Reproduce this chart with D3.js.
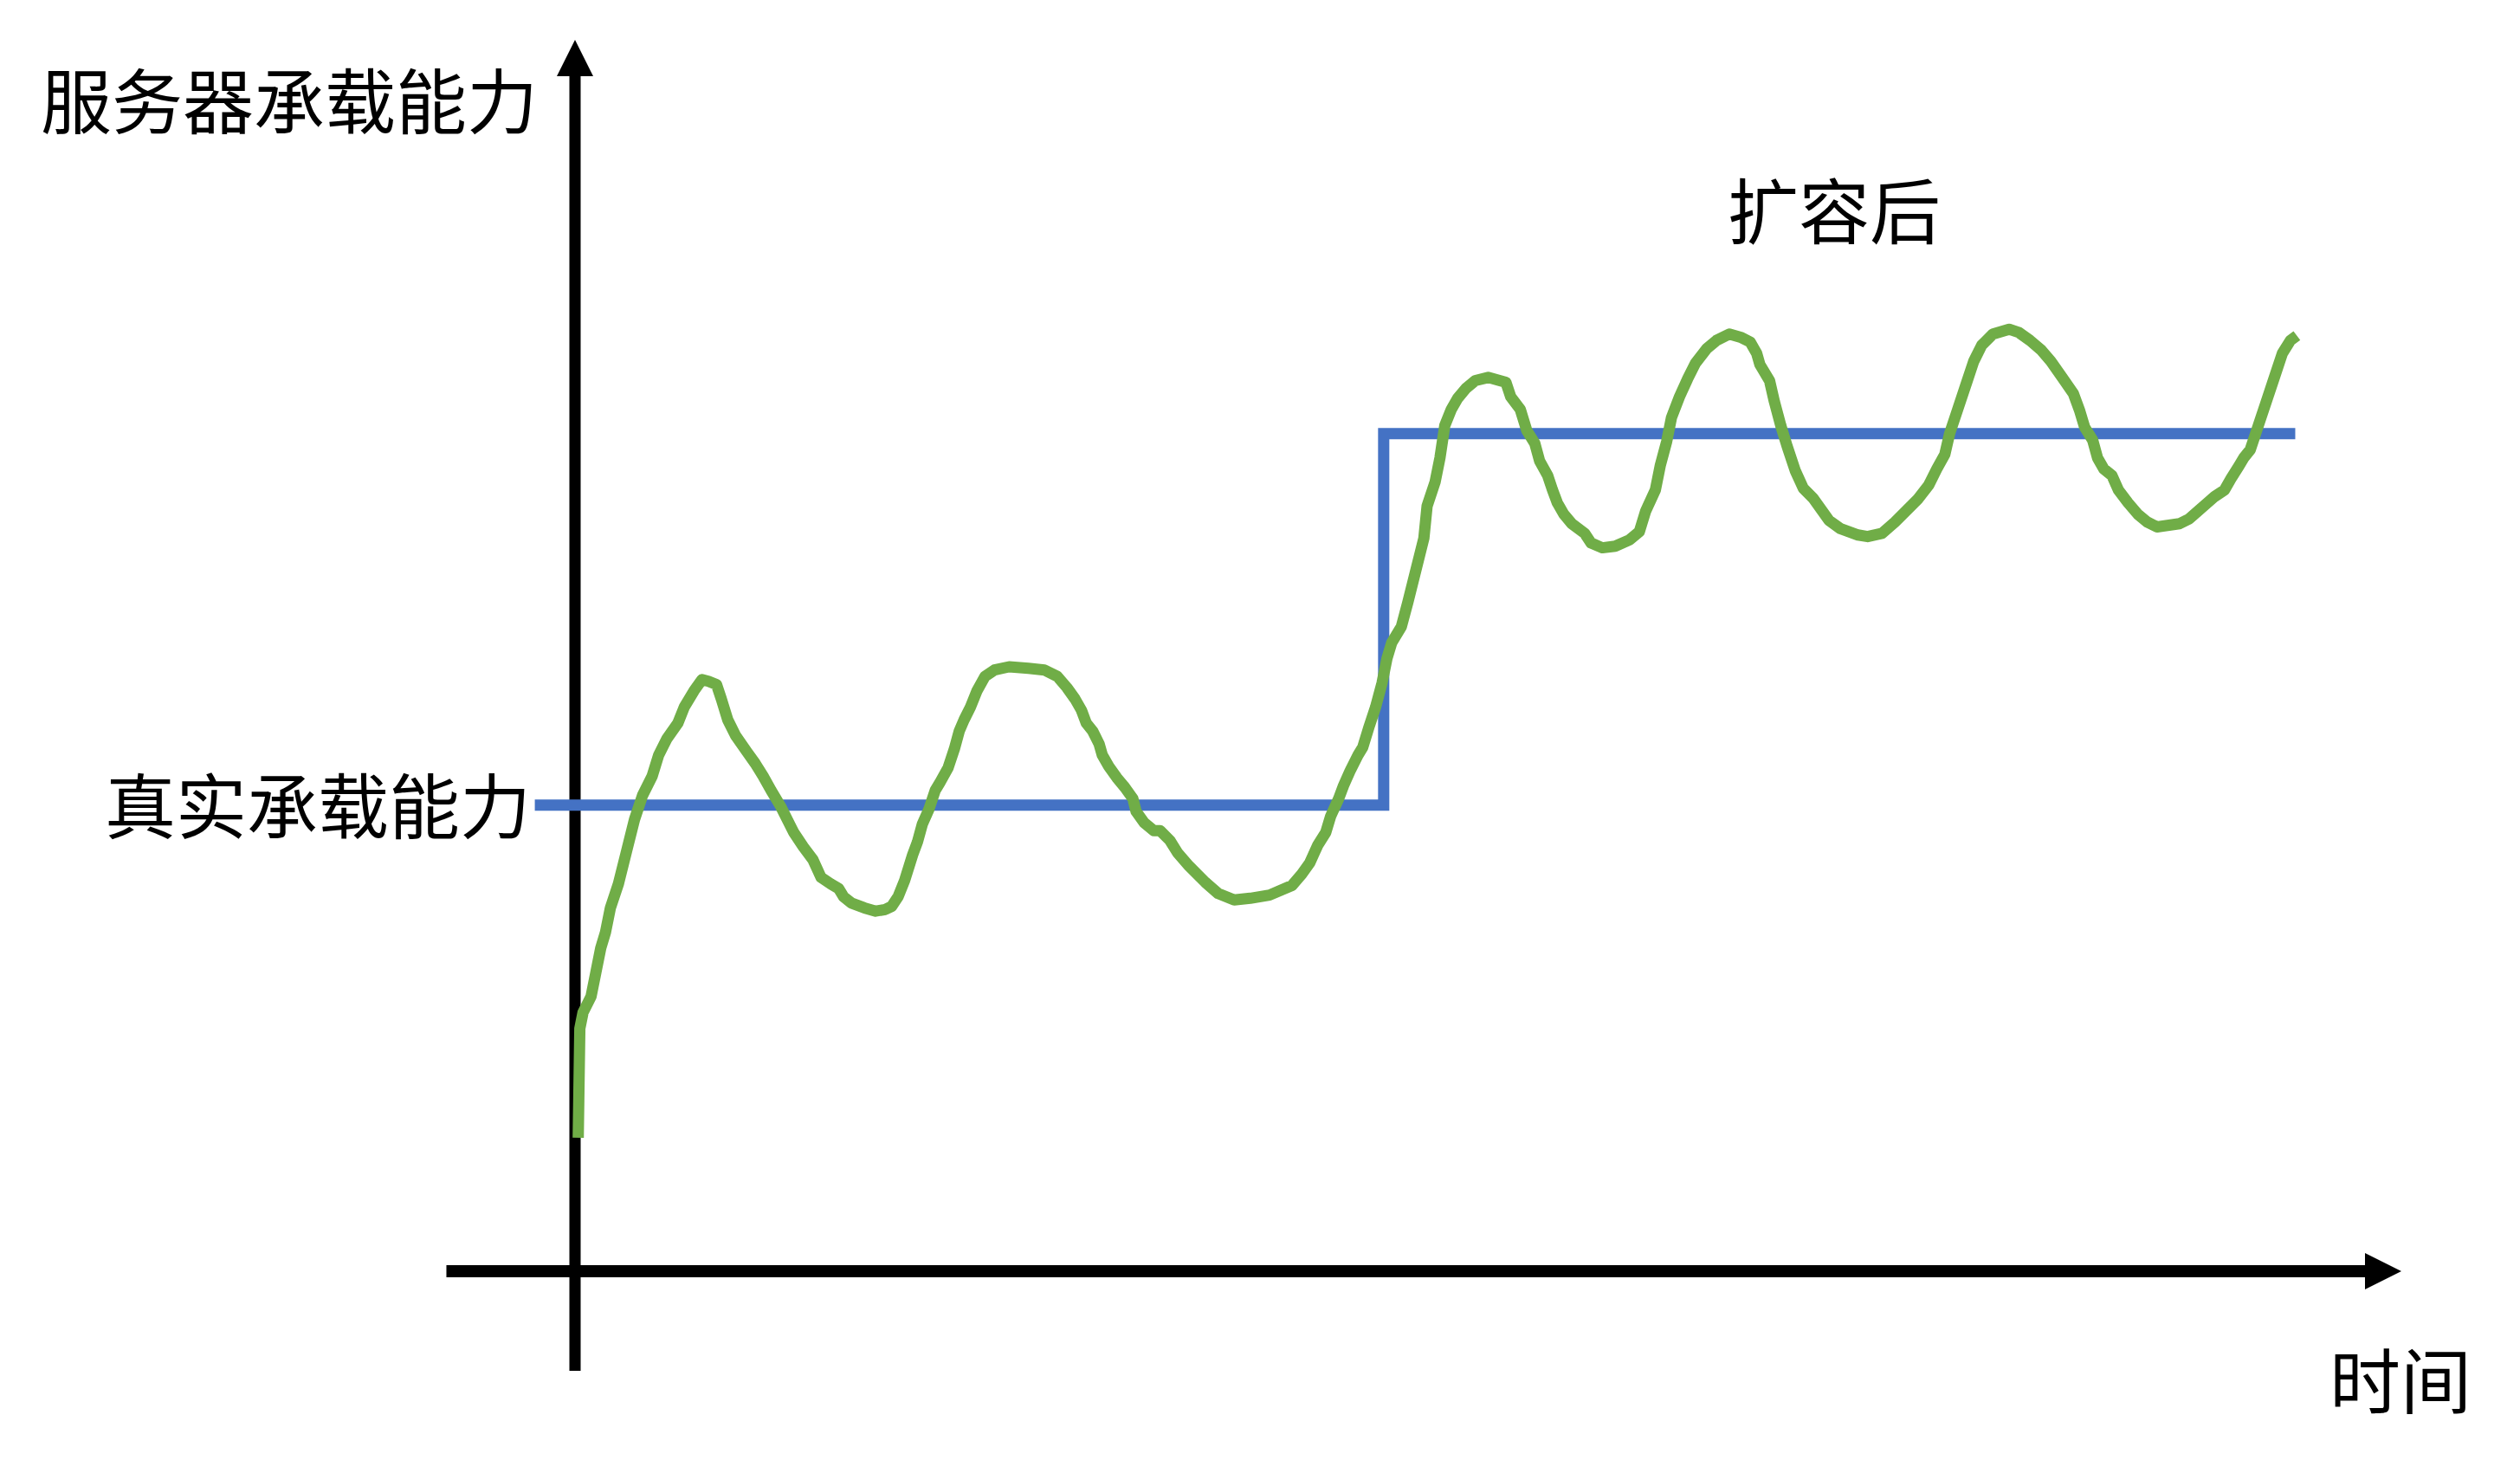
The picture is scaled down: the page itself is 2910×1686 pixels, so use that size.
<!DOCTYPE html>
<html><head><meta charset="utf-8">
<script src="https://cdn.jsdelivr.net/npm/d3@7"></script>
<style>html,body{margin:0;padding:0;background:#fff;}svg{display:block;}</style>
</head><body>
<script>
// ---- data (arbitrary units: time, capacity) ----
const loadTime = [2,3,5,10,13,16,19,22,27,32,37,42,48,52,57,64,68,74,79,83,88,91,95,100,107,112,117,122,128,132,136,142,148,153,159,164,167,172,180,187,193,197,201,205,210,213,216,220,224,227,232,236,239,242,246,250,255,261,270,282,292,300,306,311,315,318,322,326,328,332,337,342,347,349,354,360,364,370,375,382,392,400,410,420,432,446,452,457,462,467,470,475,478,482,487,490,494,498,502,505,508,514,518,523,528,530,535,538,541,545,549,554,560,568,579,582,588,592,597,600,605,608,611,615,620,628,632,639,647,656,662,666,672,675,679,682,687,692,697,704,710,718,725,731,735,737,743,746,750,754,759,764,770,775,780,787,798,804,813,821,828,835,842,847,852,855,860,865,870,875,882,892,898,905,912,918,925,932,936,939,944,947,951,956,960,966,972,978,984,998,1004,1012,1020,1026,1030,1035,1038,1042,1047,1052,1057,1062,1067,1071];
const loadValue = [83,151,161,171,186,201,211,226,241,261,281,296,308,321,331,341,351,361,368,367,365,356,343,333,323,316,308,299,289,281,273,264,256,245,241,238,233,229,226,224,225,227,233,243,259,267,278,287,299,304,313,325,336,343,351,361,370,374,376,375,374,370,363,356,349,341,336,328,321,314,307,301,294,286,279,274,274,268,260,252,242,235,231,232,234,240,247,254,265,273,283,294,302,311,321,326,339,351,366,381,391,401,416,436,456,476,491,506,526,536,543,549,554,556,553,544,536,523,515,504,495,486,478,471,465,459,453,450,451,455,460,473,486,501,516,531,544,555,565,574,579,583,581,578,571,564,554,541,526,513,498,487,481,474,467,462,458,457,459,466,473,480,489,499,508,521,536,551,566,576,583,586,584,579,573,566,556,546,535,525,517,506,499,495,486,478,471,466,463,465,468,475,482,486,493,501,506,511,526,541,556,571,579,582];
const capacityTime = [-25, 503, 1070];
const capacityValue = [290, 521, 521];
const axisTimeRange = [-80, 1136];
const axisValueRange = [-62, 766];
const labels = {yTitle: "服务器承载能力", xTitle: "时间", real: "真实承载能力", after: "扩容后"};

const W = 2910, H = 1686;
const svg = d3.select("body").append("svg").attr("width", W).attr("height", H);
const x = d3.scaleLinear().domain([0, 1136]).range([664, 2773]);
const y = d3.scaleLinear().domain([0, 766]).range([1468, 46]);

const font = "'Noto Sans CJK SC','Noto Sans CJK JP',sans-serif";
const head = 42;

// axes
const ax = svg.append("g");
ax.append("line").attr("x1", x(axisTimeRange[0])).attr("x2", x(axisTimeRange[1]) - head + 2)
  .attr("y1", y(0)).attr("y2", y(0)).attr("stroke", "#000").attr("stroke-width", 14);
ax.append("path").attr("d", `M${x(axisTimeRange[1])},${y(0)} L${x(axisTimeRange[1]) - head},${y(0) - 21} L${x(axisTimeRange[1]) - head},${y(0) + 21} Z`).attr("fill", "#000");
ax.append("line").attr("x1", x(0)).attr("x2", x(0))
  .attr("y1", y(axisValueRange[0])).attr("y2", y(axisValueRange[1]) + head - 2)
  .attr("stroke", "#000").attr("stroke-width", 13);
ax.append("path").attr("d", `M${x(0)},${y(axisValueRange[1])} L${x(0) - 21},${y(axisValueRange[1]) + head} L${x(0) + 21},${y(axisValueRange[1]) + head} Z`).attr("fill", "#000");

// capacity step line
const capData = capacityTime.map((t, i) => [t, capacityValue[i]]);
svg.append("path").datum(capData)
  .attr("d", d3.line().x(d => x(d[0])).y(d => y(d[1])).curve(d3.curveStepAfter))
  .attr("fill", "none").attr("stroke", "#4472C4").attr("stroke-width", 13);

// load curve
const loadData = loadTime.map((t, i) => [t, loadValue[i]]);
svg.append("path").datum(loadData)
  .attr("d", d3.line().x(d => x(d[0])).y(d => y(d[1])).curve(d3.curveLinear))
  .attr("fill", "none").attr("stroke", "#70AD47").attr("stroke-width", 13)
  .attr("stroke-linejoin", "round");

// labels
function label(txt, px, py, anchor) {
  svg.append("text").text(txt).attr("x", px).attr("y", py)
    .attr("text-anchor", anchor).attr("dominant-baseline", "central")
    .attr("font-family", font).attr("font-size", 82).attr("fill", "#000");
}
label(labels.yTitle, 47, 112, "start");
label(labels.real, 613, 926, "end");
label(labels.after, 1995, 239, "start");
label(labels.xTitle, 2690, 1590, "start");
</script>
</body></html>
